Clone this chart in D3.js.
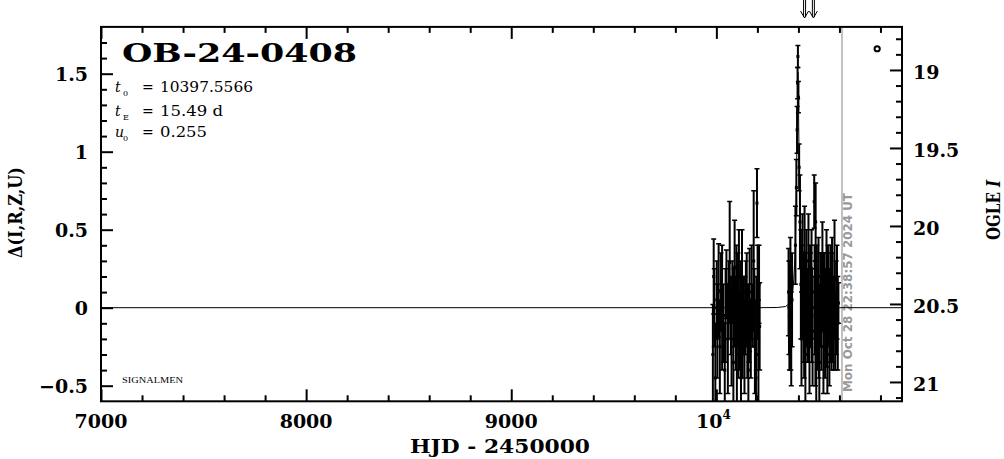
<!DOCTYPE html>
<html><head><meta charset="utf-8">
<script src="https://cdn.jsdelivr.net/npm/d3@7"></script>
<style>body{margin:0;background:#fff}svg{display:block}</style>
</head><body>
<svg id="c" width="1004" height="459"></svg>
<script>
// ---- data ----
const xDomain = [7000, 10905];
const yDomain = [-0.6, 1.8];
const baseI = 20.524;               // OGLE I magnitude at delta = 0
const xMajor = [7000, 8000, 9000, 10000];
const xMajorLabels = ["7000", "8000", "9000", "10"];
const leftTicks = [-0.5, 0, 0.5, 1, 1.5];
const leftTickLabels = ["\u22120.5", "0", "0.5", "1", "1.5"];
const rightTicks = [19, 19.5, 20, 20.5, 21];
const rightTickLabels = ["19", "19.5", "20", "20.5", "21"];

const obsT = [9983, 9987, 9995, 10002, 10011, 10017, 10028, 10034, 10041, 10049, 10056, 10065, 10071, 10078, 10083, 10089, 10095, 10100, 10105, 10110, 10115, 10120, 10125, 10132, 10137, 10144, 10151, 10156, 10162, 10168, 10176, 10182, 10188, 10193, 10198, 10201, 10205, 10211,
  9990, 10005, 10022, 10045, 10060, 10074, 10086, 10098, 10108, 10118, 10128, 10140, 10148, 10159, 10172, 10185, 10195, 10208,
  10352, 10356, 10361, 10365, 10369, 10385.5, 10390, 10393.5, 10396, 10397.5, 10400, 10403.5, 10407.5, 10412, 10415, 10420, 10425, 10430, 10434, 10439, 10444, 10449, 10454, 10459, 10464, 10469, 10477, 10479, 10483, 10484, 10487, 10493, 10498, 10502, 10507, 10512, 10517, 10522, 10527, 10532, 10537, 10541, 10546, 10551, 10556, 10561, 10566, 10576, 10580, 10588, 10595,
  10354, 10363, 10418, 10428, 10437, 10447, 10457, 10466, 10481, 10490, 10500, 10510, 10520, 10530, 10544, 10554, 10564, 10572, 10584, 10592];
const obsD = [-0.30, 0.20, -0.45, 0.05, 0.11, -0.25, 0.00, -0.10, -0.40, 0.15, -0.20, 0.29, -0.05, 0.10, -0.35, 0.26, -0.10, -0.30, 0.05, 0.20, -0.15, -0.45, 0.15, -0.05, -0.25, 0.10, -0.15, -0.40, 0.05, -0.20, -0.05, 0.30, -0.25, -0.45, 0.67, 0.10, -0.30, -0.12,
  0.00, -0.15, 0.10, -0.05, 0.05, -0.20, 0.00, 0.10, -0.20, 0.00, -0.15, -0.05, 0.05, -0.10, 0.10, 0.00, -0.10, 0.15,
  0.10, -0.05, 0.25, -0.20, 0.05, 0.40, 0.77, 1.14, 1.44, 1.61, 1.35, 0.90, 0.55, 0.15, -0.20, 0.35, 0.00, 0.35, -0.30, 0.20, -0.10, 0.30, -0.25, 0.05, 0.25, -0.15, 0.68, 0.10, -0.20, 0.55, -0.30, -0.10, 0.20, -0.35, 0.05, -0.15, 0.25, -0.25, 0.10, -0.05, 0.06, -0.30, 0.05, -0.20, 0.15, -0.10, 0.00, 0.18, -0.15, 0.10, 0.03,
  0.00, -0.10, 0.10, -0.15, 0.05, -0.05, 0.15, -0.05, 0.00, 0.10, -0.15, 0.05, 0.10, -0.15, 0.10, -0.05, 0.15, -0.10, 0.00, -0.10];
const obsE = [0.32, 0.24, 0.35, 0.25, 0.30, 0.30, 0.40, 0.25, 0.30, 0.22, 0.35, 0.39, 0.25, 0.20, 0.30, 0.30, 0.30, 0.35, 0.30, 0.30, 0.25, 0.30, 0.35, 0.25, 0.30, 0.20, 0.30, 0.35, 0.33, 0.25, 0.20, 0.45, 0.30, 0.30, 0.22, 0.30, 0.35, 0.28,
  0.25, 0.30, 0.25, 0.30, 0.25, 0.30, 0.25, 0.30, 0.25, 0.30, 0.30, 0.25, 0.30, 0.25, 0.30, 0.25, 0.30, 0.25,
  0.28, 0.35, 0.20, 0.30, 0.30, 0.25, 0.18, 0.15, 0.10, 0.07, 0.10, 0.15, 0.30, 0.35, 0.30, 0.25, 0.35, 0.30, 0.30, 0.30, 0.25, 0.30, 0.30, 0.30, 0.25, 0.35, 0.17, 0.30, 0.30, 0.25, 0.55, 0.30, 0.25, 0.30, 0.30, 0.25, 0.30, 0.30, 0.25, 0.30, 0.44, 0.25, 0.30, 0.30, 0.25, 0.30, 0.35, 0.38, 0.25, 0.30, 0.13,
  0.30, 0.30, 0.30, 0.30, 0.30, 0.30, 0.25, 0.30, 0.30, 0.30, 0.30, 0.30, 0.25, 0.30, 0.30, 0.30, 0.30, 0.30, 0.30, 0.30];

const modelT = [7000, 10200, 10297.56, 10337.56, 10357.56, 10367.56, 10372.56, 10377.56, 10382.56, 10385.56, 10387.56, 10389.56, 10391.56, 10392.56, 10393.56, 10394.56, 10395.56, 10396.56, 10397.56,
  10398.56, 10399.56, 10400.56, 10401.56, 10402.56, 10403.56, 10405.56, 10407.56, 10409.56, 10412.56, 10417.56, 10422.56, 10427.56, 10437.56, 10457.56, 10497.56, 10600, 10905];
const modelD = [0, 0, 0.0013, 0.0075, 0.029, 0.068, 0.110, 0.184, 0.318, 0.450, 0.569, 0.723, 0.917, 1.030, 1.152, 1.277, 1.392, 1.478, 1.510,
  1.478, 1.392, 1.277, 1.152, 1.030, 0.917, 0.723, 0.569, 0.450, 0.318, 0.184, 0.110, 0.068, 0.029, 0.0075, 0.0013, 0, 0];

const eventName = "OB-24-0408";
const paramNames = [["t", "0"], ["t", "E"], ["u", "0"]];
const paramValues = ["= 10397.5566", "= 15.49 d", "= 0.255"];
const arrowsT = [10430, 10473];
const dateT = 10612.44;
const dateLabel = "Mon Oct 28 22:38:57 2024 UT";
const markerT = [10784];
const markerD = [1.66];

// ---- drawing ----
const svg = d3.select("#c");
const L = 101, R = 902, T = 26.9, B = 401.3;
const x = d3.scaleLinear().domain(xDomain).range([L, R]);
const y = d3.scaleLinear().domain(yDomain).range([B, T]);
const yI = d3.scaleLinear().domain([baseI - yDomain[1], baseI - yDomain[0]]).range([T, B]);
const SERIF = "'DejaVu Serif', serif";

svg.append("defs").append("clipPath").attr("id", "clip")
  .append("rect").attr("x", L).attr("y", T).attr("width", R - L).attr("height", B - T);

// date line
svg.append("line").attr("x1", x(dateT)).attr("x2", x(dateT)).attr("y1", T).attr("y2", B)
  .attr("stroke", "#999").attr("stroke-width", 1.2);
svg.append("text").attr("transform", `translate(${x(dateT) + 10.5},292.5) rotate(-90)`)
  .attr("text-anchor", "middle").attr("fill", "#999")
  .attr("font-family", "'DejaVu Sans', sans-serif").attr("font-weight", "bold").attr("font-size", 12)
  .attr("textLength", 199).attr("lengthAdjust", "spacingAndGlyphs").text(dateLabel);

const plot = svg.append("g").attr("clip-path", "url(#clip)");
// model
plot.append("path").datum(modelT.map((t, i) => [t, modelD[i]]))
  .attr("d", d3.line().x(d => x(d[0])).y(d => y(d[1])))
  .attr("fill", "none").attr("stroke", "#000").attr("stroke-width", 1);

// observations
const obs = obsT.map((t, i) => ({ t, d: obsD[i], e: obsE[i] }));
const pts = plot.selectAll("g.pt").data(obs).join("g").attr("class", "pt");
pts.append("line").attr("x1", d => x(d.t)).attr("x2", d => x(d.t))
  .attr("y1", d => y(d.d - d.e)).attr("y2", d => y(d.d + d.e))
  .attr("stroke", "#000").attr("stroke-width", 2);
[-1, 1].forEach(s => {
  pts.append("line").attr("x1", d => x(d.t) - 2.5).attr("x2", d => x(d.t) + 2.5)
    .attr("y1", d => y(d.d + s * d.e)).attr("y2", d => y(d.d + s * d.e))
    .attr("stroke", "#000").attr("stroke-width", 1.5);
});
pts.append("rect").attr("x", d => x(d.t) - 1.5).attr("y", d => y(d.d) - 1.5)
  .attr("width", 3).attr("height", 3).attr("fill", "#000");

// marker "o"
plot.selectAll("circle.mk").data(markerT).join("circle").attr("class", "mk")
  .attr("cx", (d, i) => x(d)).attr("cy", (d, i) => y(markerD[i])).attr("r", 2.6)
  .attr("fill", "none").attr("stroke", "#000").attr("stroke-width", 2);

// frame
svg.append("rect").attr("x", L).attr("y", T).attr("width", R - L).attr("height", B - T)
  .attr("fill", "none").attr("stroke", "#000").attr("stroke-width", 2);

// ticks
function tickAxis(axis, tr, vals, size) {
  const g = svg.append("g").attr("transform", tr);
  g.call(axis.tickValues(vals).tickSize(size).tickFormat(""));
  g.select(".domain").remove();
  g.selectAll("line").attr("stroke", "#000").attr("stroke-width", 2);
  g.selectAll("text").remove();
}
const xMinor = d3.range(7200, 10905, 200).filter(v => v % 1000 !== 0);
const lMinor = d3.range(-5, 18).map(v => v / 10).filter(v => Math.abs(v * 2 - Math.round(v * 2)) > 1e-6);
const rMinor = d3.range(188, 212).map(v => v / 10).filter(v => Math.abs(v * 2 - Math.round(v * 2)) > 1e-6);
tickAxis(d3.axisBottom(x), `translate(0,${B})`, xMajor, -12);
tickAxis(d3.axisBottom(x), `translate(0,${B})`, xMinor, -6);
tickAxis(d3.axisTop(x), `translate(0,${T})`, xMajor, -12);
tickAxis(d3.axisTop(x), `translate(0,${T})`, xMinor, -6);
tickAxis(d3.axisLeft(y), `translate(${L},0)`, leftTicks, -12);
tickAxis(d3.axisLeft(y), `translate(${L},0)`, lMinor, -6);
tickAxis(d3.axisRight(yI), `translate(${R},0)`, rightTicks, -12);
tickAxis(d3.axisRight(yI), `translate(${R},0)`, rMinor, -6);

// tick labels
const lab = (sel) => sel.attr("font-family", SERIF).attr("font-weight", "bold").attr("font-size", 19).attr("fill", "#000");
xMajor.forEach((v, i) => {
  const t = svg.append("text").call(lab).attr("x", x(v) + (i === 3 ? -3 : 0)).attr("y", 428).attr("text-anchor", "middle").text(xMajorLabels[i]);
  if (i === 3) t.append("tspan").attr("dy", -9).attr("font-size", 12).text("4");
});
leftTicks.forEach((v, i) => svg.append("text").call(lab).attr("x", 88).attr("y", y(v) + 7).attr("text-anchor", "end").text(leftTickLabels[i]));
rightTicks.forEach((v, i) => svg.append("text").call(lab).attr("x", 913).attr("y", yI(v) + 9).attr("text-anchor", "start").text(rightTickLabels[i]));

// axis titles
svg.append("text").call(lab).attr("font-size", 18).attr("x", 500).attr("y", 453).attr("text-anchor", "middle")
  .attr("textLength", 180).attr("lengthAdjust", "spacingAndGlyphs").text("HJD - 2450000");
svg.append("text").call(lab).attr("transform", "translate(22,212.5) rotate(-90)").attr("text-anchor", "middle")
  .attr("textLength", 91).attr("lengthAdjust", "spacingAndGlyphs").text("\u0394(I,R,Z,U)");
const ogle = svg.append("text").call(lab).attr("transform", "translate(1000,210) rotate(-90)").attr("text-anchor", "middle")
  .attr("textLength", 60).attr("lengthAdjust", "spacingAndGlyphs");
ogle.append("tspan").text("OGLE ");
ogle.append("tspan").attr("font-style", "italic").text("I");

// title and parameters
svg.append("text").call(lab).attr("font-size", 26).attr("x", 122).attr("y", 62)
  .attr("textLength", 235).attr("lengthAdjust", "spacingAndGlyphs").text(eventName);
const baselines = [91.7, 115.7, 136.7];
const valLen = [93, 63, 47];
paramNames.forEach((p, i) => {
  const by = baselines[i];
  svg.append("text").attr("font-family", SERIF).attr("font-size", 14).attr("font-style", "italic")
    .attr("x", 115).attr("y", by).text(p[0]);
  svg.append("text").attr("font-family", SERIF).attr("font-size", 8).attr("x", 123).attr("y", by + 4).text(p[1]);
  svg.append("text").attr("font-family", SERIF).attr("font-size", 14).attr("x", 142).attr("y", by).text(paramValues[i].slice(0, 1));
  svg.append("text").attr("font-family", SERIF).attr("font-size", 14).attr("x", 160).attr("y", by)
    .attr("textLength", valLen[i]).attr("lengthAdjust", "spacingAndGlyphs").text(paramValues[i].slice(2));
});
svg.append("text").attr("font-family", "'Liberation Serif', serif").attr("font-size", 9).attr("x", 122).attr("y", 383)
  .attr("textLength", 61).attr("lengthAdjust", "spacingAndGlyphs").text("SIGNALMEN");

// arrows
arrowsT.forEach(t => {
  const ax = x(t);
  [-1, 1].forEach(s => svg.append("line").attr("x1", ax + s).attr("x2", ax + s).attr("y1", 0).attr("y2", 17)
    .attr("stroke", "#000").attr("stroke-width", 1));
  svg.append("path").attr("d", `M${ax - 4},11 L${ax},18 L${ax + 4},11`).attr("fill", "none")
    .attr("stroke", "#000").attr("stroke-width", 1);
});
</script>
</body></html>
